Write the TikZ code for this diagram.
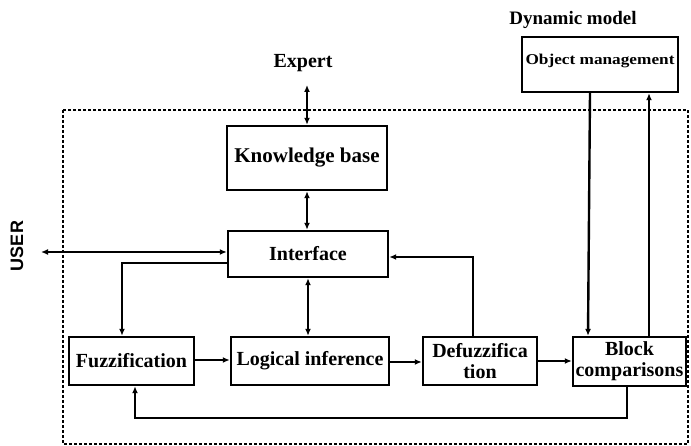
\documentclass[tikz,border=0pt]{standalone}
\usepackage{fontspec}
\usepackage{graphicx}
\setmainfont{Liberation Serif}
\newfontfamily\usersans{Liberation Sans}
\usetikzlibrary{arrows.meta}

\tikzset{
  block/.style={draw, line width=2.4pt, inner sep=0pt, align=center,
    font=\bfseries\fontsize{20}{21}\selectfont},
  link/.style={line width=2.4pt, -{Latex[length=7pt,width=6pt]}},
  twolink/.style={line width=2.4pt, {Latex[length=7pt,width=6pt]}-{Latex[length=7pt,width=6pt]}},
  frame/.style={line width=2pt, dash pattern=on 3pt off 2pt},
  caption/.style={font=\bfseries\fontsize{20}{21}\selectfont, inner sep=0pt}
}

\begin{document}
\begin{tikzpicture}[x=1pt,y=-1pt]
  \useasboundingbox (0,0) rectangle (691,446);

  % system boundary
  \draw[frame] (63,110) rectangle (688,444);

  % outside labels
  \node[caption] (expert) at (303,63) {Expert};
  \node[caption, font=\bfseries\fontsize{19}{21}\selectfont] (dyn) at (573,20) {Dynamic model};
  \node[font=\usersans\bfseries\fontsize{18}{19}\selectfont, rotate=90, inner sep=0pt] (user) at (17,246) {USER};

  % blocks
  \node[block, minimum width=160pt, minimum height=64pt,
        font=\bfseries\fontsize{21}{21}\selectfont] (kb) at (307,158) {Knowledge base};
  \node[block, minimum width=160pt, minimum height=46pt] (intf) at (308,254) {Interface};
  \node[block, minimum width=125pt, minimum height=48pt] (fuzz) at (131.5,361) {Fuzzification};
  \node[block, minimum width=158pt, minimum height=48pt] (logic) at (310,361) {Logical inference};
  \node[block, minimum width=114pt, minimum height=48pt] (defuzz) at (480,361) {Defuzzifica\\tion};
  \node[block, minimum width=113pt, minimum height=49pt] (cmp) at (629.5,361.5) {Block\\comparisons};
  \node[block, minimum width=156pt, text height=28pt, text depth=27pt,
        font=\bfseries\fontsize{15}{16}\selectfont] (obj) at (600,64.5)
        {\scalebox{1.15}[1]{Object management}};

  % free ends
  \coordinate (expertend) at (307,85);
  \coordinate (userend) at (41,252);

  % vertical links through the centre column
  \draw[twolink] (expertend) -- (kb.north);
  \draw[twolink] (kb.south) -- (kb.south |- intf.north);
  \draw[twolink] (intf.south) -- (logic.north -| intf.south);

  % interface to the user
  \draw[twolink] (intf.west |- userend) -- (userend);

  % interface down to fuzzification
  \draw[link] (intf.west |- 0,263) -| (fuzz.north -| 122,0);

  % defuzzification back to interface
  \draw[link] (defuzz.north -| 473,0) |- (intf.east |- 0,257);

  % main chain
  \draw[link] (fuzz.east |- 0,360) -- (logic.west |- 0,360);
  \draw[link] (logic.east |- 0,362) -- (defuzz.west |- 0,362);
  \draw[link] (defuzz.east |- 0,361) -- (cmp.west |- 0,361);

  % exchange with the dynamic model
  \draw[link] (obj.south -| 590,0) -- (cmp.north -| 588,0);
  \draw[link] (cmp.north -| 649,0) -- (obj.south -| 649,0);

  % feedback to fuzzification
  \draw[link] (cmp.south -| 627,0) |- (135,418) -- (fuzz.south -| 135,0);
\end{tikzpicture}
\end{document}
